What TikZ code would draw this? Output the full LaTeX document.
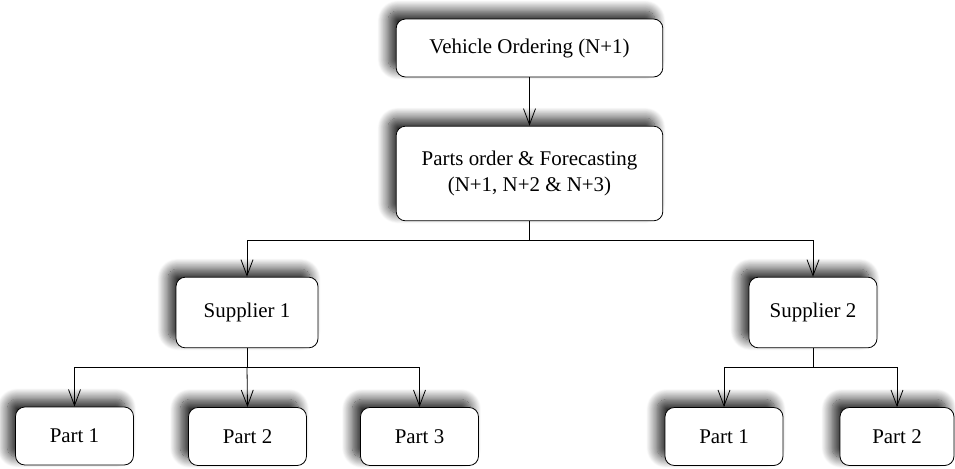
\documentclass[tikz,border=0pt]{standalone}
\usepackage{fontspec}
\setmainfont{Liberation Serif}
\usetikzlibrary{arrows.meta,shadows.blur}

\begin{document}
\begin{tikzpicture}[
        x=0.75pt, y=-0.75pt,
        box/.style={
            rectangle,
            draw,
            line width=0.6pt,
            rounded corners=7pt,
            fill=white,
            align=center,
            inner sep=0pt,
            font=\fontsize{15.7}{19.5}\selectfont,
            blur shadow={shadow xshift=-6pt, shadow yshift=6pt,
                shadow blur radius=8pt, shadow blur steps=16,
                shadow opacity=85}
        },
        wide/.style={box, minimum width=200pt},
        supp/.style={box, minimum height=53pt},
        part/.style={box, minimum width=88.5pt, minimum height=43.5pt},
        line/.style={line width=0.6pt},
        >={Straight Barb[length=12pt,width=9pt,line width=0.6pt]}
    ]
    \useasboundingbox (0,0) rectangle (955,468);

    % Main boxes
    \node[wide, minimum height=43.5pt] (vehicle) at (529.5,48) {Vehicle Ordering (N+1)};
    \node[wide, minimum height=71pt] (order) at (529.5,173.5) {Parts order \& Forecasting\\(N+1, N+2 \& N+3)};
    \node[supp, minimum width=106.5pt] (sup1) at (247,312.5) {Supplier 1};
    \node[supp, minimum width=96pt] (sup2) at (813,312.5) {Supplier 2};
    \node[part] (s1p1) at (74.5,436) {Part 1};
    \node[part] (s1p2) at (247.5,436.5) {Part 2};
    \node[part] (s1p3) at (419.5,436.5) {Part 3};
    \node[part] (s2p1) at (724,436.5) {Part 1};
    \node[part, minimum width=85.5pt] (s2p2) at (897,436.5) {Part 2};

    % Fork points
    \coordinate (fork0) at (529.5,240.5);
    \coordinate (fork1) at (247,367);
    \coordinate (fork2) at (813,367);

    % Connections
    \draw[line, ->] (vehicle.south) -- (order.north);

    \draw[line] (order.south) -- (fork0);
    \draw[line, ->] (fork0) -| (sup1.north);
    \draw[line, ->] (fork0) -| (sup2.north);

    \draw[line] (sup1.south) -- (fork1);
    \draw[line, ->] (fork1) -| (s1p1.north);
    \draw[line, ->] (fork1) -- (s1p2.north);
    \draw[line, ->] (fork1) -| (s1p3.north);

    \draw[line] (sup2.south) -- (fork2);
    \draw[line, ->] (fork2) -| (s2p1.north);
    \draw[line, ->] (fork2) -| (s2p2.north);

\end{tikzpicture}
\end{document}
